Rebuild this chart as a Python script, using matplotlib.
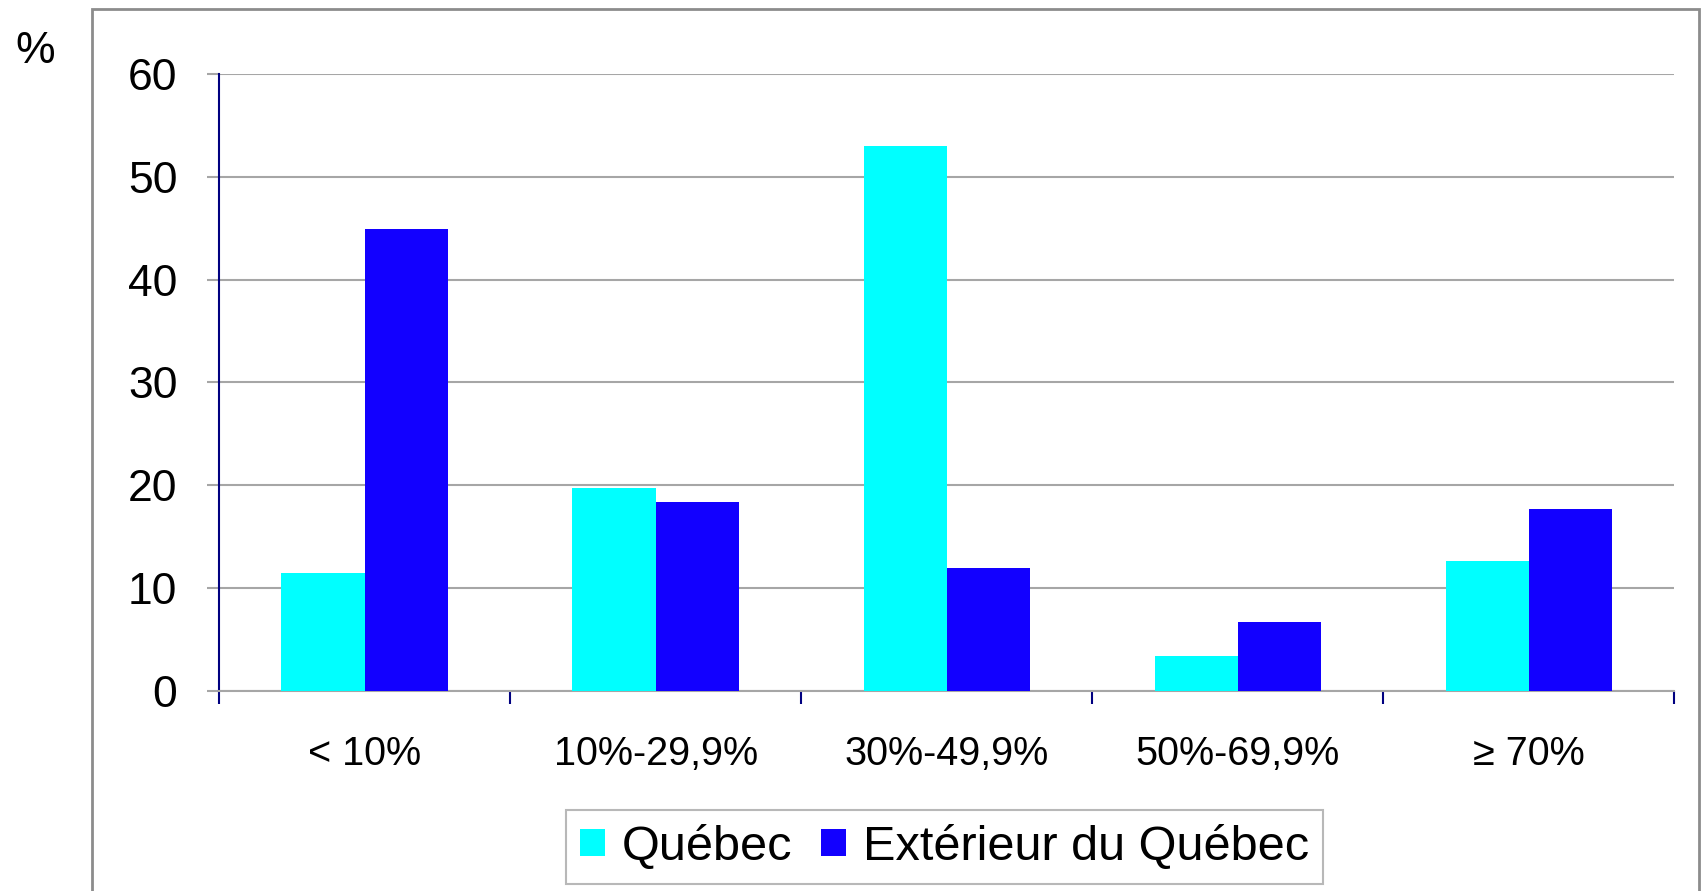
import numpy as np
import matplotlib.pyplot as plt
from matplotlib.patches import Rectangle

categories = ['< 10%', '10%-29,9%', '30%-49,9%', '50%-69,9%', '≥ 70%']
quebec = [11.5, 19.7, 53.0, 3.4, 12.6]
exterieur = [44.9, 18.4, 12.0, 6.7, 17.7]
yticks = [0, 10, 20, 30, 40, 50, 60]

plt.rcParams['font.family'] = ['Liberation Sans', 'DejaVu Sans']

fig = plt.figure(figsize=(17.02, 8.91), dpi=100)

# outer chart border
fig.patches.append(Rectangle((0.054, -0.01), 0.944, 1.0, transform=fig.transFigure,
                             fill=False, edgecolor='#8c8c8c', linewidth=2))

ax = fig.add_axes([0.1287, 0.2245, 0.855, 0.6925])

x = np.arange(len(categories))
w = 0.2857
ax.bar(x - w / 2, quebec, w, color='#00ffff', label='Québec', zorder=3)
ax.bar(x + w / 2, exterieur, w, color='#1200ff', label='Extérieur du Québec', zorder=3)

ax.set_xlim(-0.5, len(categories) - 0.5)
ax.set_ylim(0, 60)
ax.set_yticks(yticks)
ax.yaxis.grid(True, color='#a6a6a6', linewidth=1.5, zorder=0)
ax.tick_params(axis='y', length=9, width=1.5, color='#a6a6a6', pad=21, labelsize=32)

ax.set_xticks(x)
ax.set_xticklabels(categories)
ax.set_xticks(np.arange(-0.5, len(categories)), minor=True)
ax.tick_params(axis='x', which='major', length=0, pad=32, labelsize=28.5)
ax.tick_params(axis='x', which='minor', length=9, width=1.5, color='#000080', direction='out')

for s in ['top', 'right']:
    ax.spines[s].set_visible(False)
ax.spines['left'].set_color('#000080')
ax.spines['left'].set_linewidth(1.5)
ax.spines['bottom'].set_color('#a6a6a6')
ax.spines['bottom'].set_linewidth(1.5)

fig.text(0.009, 0.942, '%', fontsize=32, va='center', ha='left')

leg = ax.legend(loc='center', bbox_to_anchor=(0.555, 0.049), bbox_transform=fig.transFigure,
                ncol=2, fontsize=35, frameon=True, fancybox=False, handlelength=0.5,
                handleheight=0.5, handletextpad=0.35, columnspacing=0.6, borderpad=0.3)
leg.get_frame().set_edgecolor('#a6a6a6')
leg.get_frame().set_linewidth(1.5)

fig.savefig('out.png', dpi=100)
